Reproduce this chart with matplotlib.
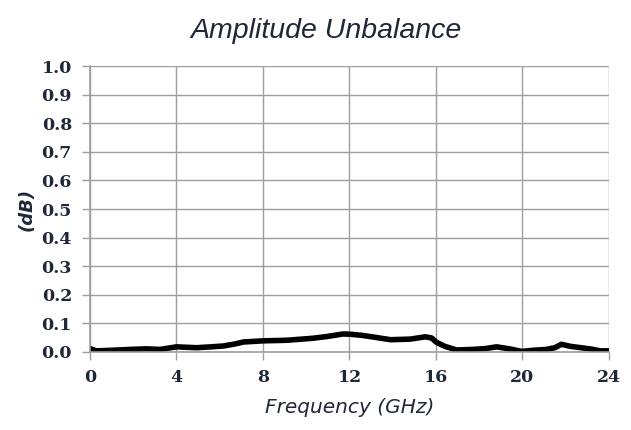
import numpy as np
import matplotlib
matplotlib.use("Agg")
import matplotlib.pyplot as plt

# Amplitude unbalance vs frequency
freq_ghz = [0.0, 0.3, 1.0, 1.85, 2.6, 3.24, 4.0, 4.93, 5.6, 6.17, 6.7, 7.1, 8.0,
            9.1, 10.3, 10.95, 11.7, 12.05, 12.6, 13.3, 13.9, 14.8, 15.5, 15.8,
            16.0, 16.4, 16.95, 17.7, 18.3, 18.8, 19.4, 19.96, 20.5, 21.1, 21.5,
            21.8, 22.2, 22.7, 23.2, 23.6, 24.0]
unbalance_db = [0.012, 0.004, 0.006, 0.009, 0.011, 0.009, 0.018, 0.015, 0.018, 0.021,
                0.028, 0.035, 0.039, 0.041, 0.048, 0.054, 0.063, 0.062, 0.058, 0.050,
                0.043, 0.045, 0.053, 0.049, 0.035, 0.020, 0.007, 0.009, 0.012, 0.018,
                0.011, 0.002, 0.006, 0.009, 0.015, 0.027, 0.020, 0.015, 0.010, 0.004,
                0.004]

x_ticks = [0, 4, 8, 12, 16, 20, 24]
y_ticks = [0.0, 0.1, 0.2, 0.3, 0.4, 0.5, 0.6, 0.7, 0.8, 0.9, 1.0]

text_col = "#1e2838"
grid_col = "#9d9da8"

fig = plt.figure(figsize=(6.31, 4.30), dpi=100)
ax = fig.add_axes([0.1426, 0.1814, 0.8225, 0.6651])

ax.plot(freq_ghz, unbalance_db, color="black", linewidth=4, solid_capstyle="round")

ax.set_xlim(0, 24)
ax.set_ylim(0, 1.0)
ax.set_xticks(x_ticks)
ax.set_yticks(y_ticks)
ax.set_xticklabels([str(t) for t in x_ticks], fontfamily="DejaVu Serif",
                   fontweight="bold", fontsize=12.5, color=text_col)
ax.set_yticklabels([f"{t:.1f}" for t in y_ticks], fontfamily="DejaVu Serif",
                   fontweight="bold", fontsize=12.5, color=text_col)
ax.tick_params(direction="out", length=6, width=1, color=grid_col, pad=7)
ax.tick_params(axis="x", pad=6)

ax.grid(True, color=grid_col, linewidth=1)
ax.set_axisbelow(True)
for side in ["top", "right"]:
    ax.spines[side].set_visible(False)
for side in ["left", "bottom"]:
    ax.spines[side].set_color(grid_col)
    ax.spines[side].set_linewidth(1.2)

fig.suptitle("Amplitude Unbalance", x=0.517, y=0.957, fontfamily="Liberation Sans",
             fontstyle="italic", fontweight="medium", fontsize=20.5, color=text_col)
ax.set_xlabel("Frequency (GHz)", fontfamily="DejaVu Sans", fontstyle="italic",
              fontsize=14.5, color=text_col, labelpad=9)
ax.set_ylabel("(dB)", fontfamily="DejaVu Sans", fontstyle="italic", fontweight="bold",
              fontsize=13, color=text_col, labelpad=4)

fig.savefig("out.png", dpi=100)
